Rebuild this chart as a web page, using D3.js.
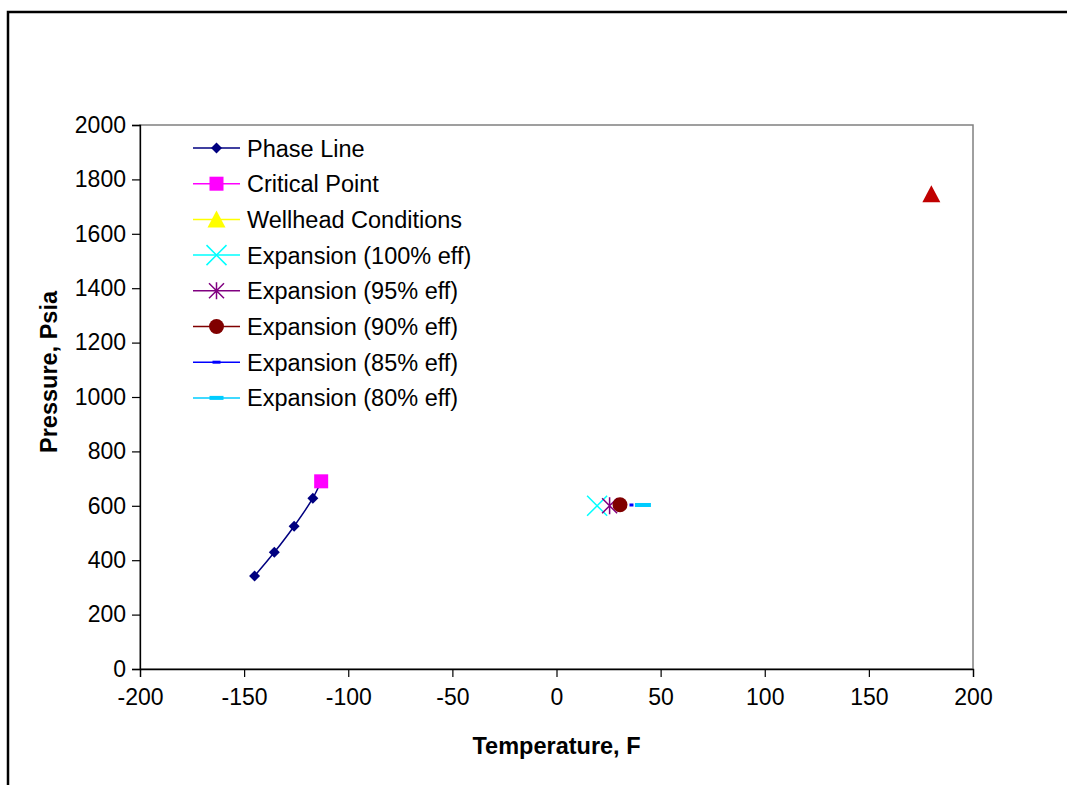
<!DOCTYPE html>
<html>
<head>
<meta charset="utf-8">
<script src="https://cdn.jsdelivr.net/npm/d3@7"></script>
<style>
  body { margin: 0; background: #fff; }
  svg { display: block; font-family: "Liberation Sans", Arial, sans-serif; }
</style>
</head>
<body>
<svg id="chart" width="1067" height="785"></svg>
<script>
// series values
const phaseT = [-145, -135.5, -126, -117, -113];
const phaseP = [342, 429, 525, 628, 690];
const criticalT = [-113];
const criticalP = [690];
const wellheadT = [180];
const wellheadP = [1745];
const expEff = ["100%", "95%", "90%", "85%", "80%"];
const expT = [19.5, 25.5, 30.5, 36, 41.5];
const expP = [600, 600, 604, 603, 603];

const xTicks = [-200, -150, -100, -50, 0, 50, 100, 150, 200];
const yTicks = [0, 200, 400, 600, 800, 1000, 1200, 1400, 1600, 1800, 2000];

const legendNames = ["Phase Line", "Critical Point", "Wellhead Conditions",
  "Expansion (100% eff)", "Expansion (95% eff)", "Expansion (90% eff)",
  "Expansion (85% eff)", "Expansion (80% eff)"];

// layout
const plot = { left: 140, top: 125, right: 973, bottom: 669 };

const svg = d3.select("#chart");

// outer frame (runs off the right and bottom edge)
svg.append("rect")
  .attr("x", 8).attr("y", 12).attr("width", 1200).attr("height", 900)
  .attr("fill", "none").attr("stroke", "#000").attr("stroke-width", 2.5);

const x = d3.scaleLinear().domain([-200, 200]).range([plot.left, plot.right]);
const y = d3.scaleLinear().domain([0, 2000]).range([plot.bottom, plot.top]);

// plot area border
svg.append("rect")
  .attr("x", plot.left).attr("y", plot.top)
  .attr("width", plot.right - plot.left).attr("height", plot.bottom - plot.top)
  .attr("fill", "none").attr("stroke", "#808080").attr("stroke-width", 1.5);

const xAxis = svg.append("g")
  .attr("transform", `translate(0,${plot.bottom})`)
  .call(d3.axisBottom(x).tickValues(xTicks).tickSize(8).tickPadding(12).tickFormat(d3.format("d")));
const yAxis = svg.append("g")
  .attr("transform", `translate(${plot.left},0)`)
  .call(d3.axisLeft(y).tickValues(yTicks).tickSize(8).tickPadding(6).tickFormat(d3.format("d")));

[xAxis, yAxis].forEach(a => {
  a.select(".domain").attr("stroke", "#000").attr("stroke-width", 1.3);
  a.selectAll(".tick line").attr("stroke", "#000").attr("stroke-width", 1.2);
  a.selectAll(".tick text").attr("font-size", 23).attr("fill", "#000")
    .attr("font-family", "Liberation Sans, Arial, sans-serif");
});
// Excel shows a plain hyphen for negatives
xAxis.selectAll(".tick text").text(d => String(d));

// axis titles
svg.append("text")
  .attr("x", (plot.left + plot.right) / 2).attr("y", 754)
  .attr("text-anchor", "middle").attr("font-size", 23.5).attr("font-weight", "bold")
  .text("Temperature, F");
svg.append("text")
  .attr("transform", `translate(57,372) rotate(-90)`)
  .attr("text-anchor", "middle").attr("font-size", 23.5).attr("font-weight", "bold")
  .text("Pressure, Psia");

// marker drawers
function diamond(g, cx, cy) {
  const s = 5.5;
  g.append("path").attr("d", `M${cx},${cy - s}L${cx + s},${cy}L${cx},${cy + s}L${cx - s},${cy}Z`)
    .attr("fill", "#000080");
}
function square(g, cx, cy) {
  g.append("rect").attr("x", cx - 7).attr("y", cy - 7).attr("width", 14).attr("height", 14)
    .attr("fill", "#FF00FF");
}
function triangle(g, cx, cy, col) {
  g.append("path").attr("d", `M${cx},${cy - 9}L${cx + 9},${cy + 8}L${cx - 9},${cy + 8}Z`)
    .attr("fill", col);
}
function cross(g, cx, cy) {
  const s = 10;
  g.append("path").attr("d", `M${cx - s},${cy - s}L${cx + s},${cy + s}M${cx - s},${cy + s}L${cx + s},${cy - s}`)
    .attr("stroke", "#00FFFF").attr("stroke-width", 1.5);
}
function star(g, cx, cy) {
  const s = 7.5;
  g.append("path").attr("d",
    `M${cx - s},${cy - s}L${cx + s},${cy + s}M${cx - s},${cy + s}L${cx + s},${cy - s}M${cx},${cy - s - 1}L${cx},${cy + s + 1}`)
    .attr("stroke", "#800080").attr("stroke-width", 1.5);
}
function dot(g, cx, cy) {
  g.append("circle").attr("cx", cx).attr("cy", cy).attr("r", 7.5).attr("fill", "#800000");
}
function dash(g, cx, cy, col, w, h) {
  g.append("rect").attr("x", cx - w / 2).attr("y", cy - h / 2).attr("width", w).attr("height", h)
    .attr("fill", col);
}

const marks = svg.append("g");

// phase line (smoothed)
const phase = phaseT.map((t, i) => [t, phaseP[i]]);
marks.append("path")
  .datum(phase)
  .attr("d", d3.line().x(d => x(d[0])).y(d => y(d[1])).curve(d3.curveCatmullRom))
  .attr("fill", "none").attr("stroke", "#000080").attr("stroke-width", 1.5);
phase.slice(0, -1).forEach(d => diamond(marks, x(d[0]), y(d[1])));

criticalT.forEach((t, i) => square(marks, x(t), y(criticalP[i])));
wellheadT.forEach((t, i) => triangle(marks, x(t), y(wellheadP[i]), "#C00000"));

const expDraw = [
  (g, cx, cy) => cross(g, cx, cy),
  (g, cx, cy) => star(g, cx, cy),
  (g, cx, cy) => dot(g, cx, cy),
  (g, cx, cy) => dash(g, cx, cy, "#0000FF", 4, 3),
  (g, cx, cy) => dash(g, cx, cy, "#00CCFF", 16, 4)
];
expEff.forEach((e, i) => expDraw[i](marks, x(expT[i]), y(expP[i])));

// legend
const legend = svg.append("g");
const legendCols = ["#000080", "#FF00FF", "#FFFF00", "#00FFFF", "#800080", "#800000", "#0000FF", "#00CCFF"];
const legendMark = [
  (g, cx, cy) => diamond(g, cx, cy),
  (g, cx, cy) => square(g, cx, cy),
  (g, cx, cy) => triangle(g, cx, cy, "#FFFF00"),
  (g, cx, cy) => cross(g, cx, cy),
  (g, cx, cy) => star(g, cx, cy),
  (g, cx, cy) => dot(g, cx, cy),
  (g, cx, cy) => dash(g, cx, cy, "#0000FF", 8, 3),
  (g, cx, cy) => dash(g, cx, cy, "#00CCFF", 14, 4)
];
legendNames.forEach((name, i) => {
  const cy = 148 + i * 35.7;
  legend.append("line").attr("x1", 193).attr("x2", 240).attr("y1", cy).attr("y2", cy)
    .attr("stroke", legendCols[i]).attr("stroke-width", 1.5);
  legendMark[i](legend, 216.5, cy);
  legend.append("text").attr("x", 247).attr("y", cy + 8.5)
    .attr("font-size", 23.5).attr("fill", "#000").text(name);
});
</script>
</body>
</html>
